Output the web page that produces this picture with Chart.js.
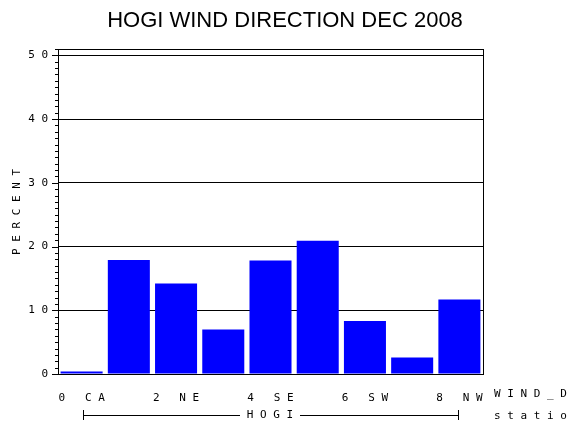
<!DOCTYPE html>
<html><head><meta charset="utf-8">
<script src="https://cdn.jsdelivr.net/npm/chart.js@4"></script>
<style>html,body{margin:0;background:#fff}</style>
</head><body><canvas id="c" width="570" height="430"></canvas>
<script>
const categories = ['0 CA', '1 N', '2 NE', '3 E', '4 SE', '5 S', '6 SW', '7 W', '8 NW'];
const percents = [0.4, 17.9, 14.2, 7.0, 17.8, 20.9, 8.3, 2.6, 11.7];
const yTicks = [0, 10, 20, 30, 40, 50];

const mono = '"DejaVu Sans Mono", monospace';

// title, frame, minor ticks and the station bracket
const decor = {
    id: 'decor',
    afterDraw(chart) {
        const ctx = chart.ctx, a = chart.chartArea, y = chart.scales.y;
        ctx.save();
        ctx.strokeStyle = '#000';
        ctx.lineWidth = 1;
        ctx.strokeRect(a.left + 0.5, a.top + 0.5, a.right - a.left, a.bottom - a.top);
        for (let v = 0; v <= 51; v++) {
            const py = Math.round(y.getPixelForValue(v)) + 0.5;
            const len = v % 10 === 0 ? 6 : 3;
            ctx.beginPath(); ctx.moveTo(a.left - len, py); ctx.lineTo(a.left, py); ctx.stroke();
        }
        ctx.fillStyle = '#000';
        ctx.font = '22px "Liberation Sans", Arial, sans-serif';
        ctx.textAlign = 'center';
        ctx.textBaseline = 'middle';
        ctx.fillText('HOGI WIND DIRECTION DEC 2008', 285, 21);
        ctx.font = '11px ' + mono;
        ctx.textAlign = 'left';
        ctx.fillText('W I N D _ D I R', 494, 394);
        ctx.fillText('s t a t i o n', 494, 416);
        ctx.textAlign = 'center';
        ctx.fillText('H O G I', 270, 415);
        ctx.beginPath();
        ctx.moveTo(83.5, 410); ctx.lineTo(83.5, 420);
        ctx.moveTo(458.5, 410); ctx.lineTo(458.5, 420);
        ctx.moveTo(83.5, 415.5); ctx.lineTo(240, 415.5);
        ctx.moveTo(300, 415.5); ctx.lineTo(458.5, 415.5);
        ctx.stroke();
        ctx.translate(17, 212);
        ctx.rotate(-Math.PI / 2);
        ctx.fillText('P E R C E N T', 0, 0);
        ctx.restore();
    }
};

new Chart(document.getElementById('c'), {
    type: 'bar',
    data: {
        labels: categories,
        datasets: [{ data: percents, backgroundColor: '#0000ff', borderWidth: 0,
            barPercentage: 0.89, categoryPercentage: 1 }]
    },
    options: {
        responsive: false, animation: false, devicePixelRatio: 1,
        layout: { padding: { top: 49, right: 87, left: 0, bottom: 0 } },
        plugins: { legend: { display: false }, tooltip: { enabled: false } },
        scales: {
            x: {
                afterFit: s => { s.height = 56; },
                grid: { display: false },
                border: { color: '#000' },
                ticks: { color: '#000', font: { family: mono, size: 11 }, padding: 10, maxRotation: 0,
                    callback: (v, i) => categories[i].split('').join(' ') }
            },
            y: {
                min: 0, max: 51,
                afterFit: s => { s.width = 58; },
                afterBuildTicks: s => { s.ticks = yTicks.map(v => ({ value: v })); },
                grid: { color: '#000', drawTicks: false },
                border: { display: false },
                ticks: { color: '#000', font: { family: mono, size: 11 }, padding: 10,
                    callback: v => String(v).split('').join(' ') }
            }
        }
    },
    plugins: [decor]
});
</script>
</body></html>
